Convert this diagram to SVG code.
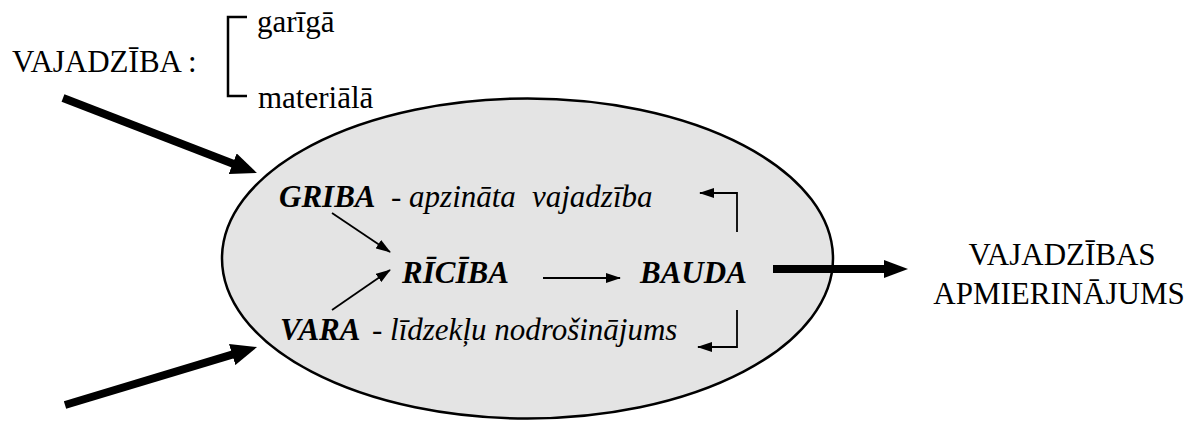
<svg xmlns="http://www.w3.org/2000/svg" width="1193" height="421" viewBox="0 0 1193 421">
<style>
text{font-family:'Liberation Serif','Times New Roman',serif;fill:#000;font-size:31px}
.bi{font-weight:bold;font-style:italic}
.it{font-style:italic}
.thick{stroke:#000;stroke-width:8;fill:none}
.thin{stroke:#000;stroke-width:1.8;fill:none}
.br{stroke:#000;stroke-width:2.5;fill:none}
</style>
<defs>
<marker id="big" markerUnits="userSpaceOnUse" viewBox="0 0 26 22" markerWidth="26" markerHeight="22" refX="6" refY="11" orient="auto">
<path d="M0,0 L26,11 L0,22 z" fill="#000"/>
</marker>
<marker id="out" markerUnits="userSpaceOnUse" viewBox="0 0 24 18" markerWidth="24" markerHeight="18" refX="4" refY="9" orient="auto">
<path d="M0,0 L24,9 L0,18 z" fill="#000"/>
</marker>
<marker id="sm" markerUnits="userSpaceOnUse" viewBox="0 0 15 10" markerWidth="15" markerHeight="10" refX="14" refY="5" orient="auto">
<path d="M0,0 L15,5 L0,10 z" fill="#000"/>
</marker>
</defs>
<rect width="1193" height="421" fill="#fff"/>
<g id="oval">
<ellipse cx="527.5" cy="258.5" rx="305.5" ry="160" fill="#e4e4e4" stroke="#000" stroke-width="2.5"/>
</g>
<g id="vajadziba">
<text x="12" y="72">VAJADZĪBA :</text>
<path class="br" d="M247,17 H228 V96 H247"/>
<text x="257" y="32">garīgā</text>
<text x="258" y="108">materiālā</text>
</g>
<g id="griba">
<text class="bi" x="279" y="207">GRIBA</text>
<text class="it" x="391" y="207">- apzināta</text>
<text class="it" x="532" y="207">vajadzība</text>
</g>
<g id="vara">
<text class="bi" x="280" y="340">VARA</text>
<text class="it" x="372" y="340">- līdzekļu nodrošinājums</text>
</g>
<g id="riciba">
<text class="bi" x="402" y="283">RĪCĪBA</text>
</g>
<g id="bauda">
<text class="bi" x="640" y="283">BAUDA</text>
</g>
<g id="apmierinajums">
<text x="1062" y="265" text-anchor="middle">VAJADZĪBAS</text>
<text x="1059" y="304" text-anchor="middle">APMIERINĀJUMS</text>
</g>
<g id="connectors">
<line class="thick" x1="63" y1="98" x2="238.3" y2="165.8" marker-end="url(#big)"/>
<line class="thick" x1="65" y1="405" x2="237.9" y2="352.8" marker-end="url(#big)"/>
<line class="thick" x1="773" y1="269" x2="888" y2="269" marker-end="url(#out)"/>
<line class="thin" x1="332" y1="213" x2="390" y2="252" marker-end="url(#sm)"/>
<line class="thin" x1="332" y1="310" x2="390" y2="270" marker-end="url(#sm)"/>
<line class="thin" x1="543" y1="278" x2="620" y2="278" marker-end="url(#sm)"/>
<path class="thin" d="M737,232 V193 H700" marker-end="url(#sm)"/>
<path class="thin" d="M737,310 V347 H698" marker-end="url(#sm)"/>
</g>
</svg>
